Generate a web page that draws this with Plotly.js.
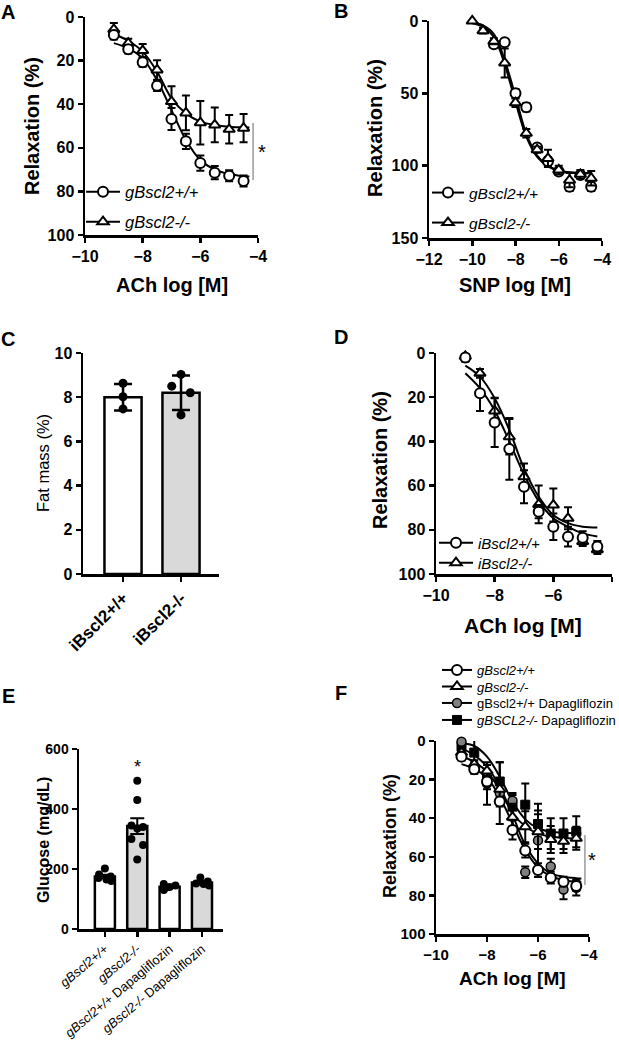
<!DOCTYPE html>
<html>
<head>
<meta charset="utf-8">
<script src="https://cdn.plot.ly/plotly-3.0.1.min.js"></script>
<style>html,body{margin:0;padding:0;background:#fff;}#chart{width:619px;height:1050px;}</style>
</head>
<body>
<div id="chart"></div>
<script>
// ---------------- DATA ----------------
// Panel A (ACh, gBscl2)
const xA = [-9, -8.5, -8, -7.5, -7, -6.5, -6, -5.5, -5, -4.5];
const aWT = [8.3, 14.8, 20.8, 31.5, 46.8, 57, 67, 71.4, 72.8, 75.2];
const aWTerr = [2, 2, 2, 2.5, 5, 3.5, 3.5, 3, 2.5, 2.5];
const aKO = [5.7, 12, 15.4, 24.3, 38.8, 44, 48.5, 49.5, 51.5, 51];
const aKOerr = [3, 2, 3, 4.5, 7, 8, 10, 8, 6.5, 6.5];
const fitXA = [-9, -8.5, -8, -7.5, -7, -6.5, -6, -5.5, -5, -4.5, -4.3];
const aWTfit = [12, 14.4, 19, 29, 42.7, 56.4, 65.6, 70, 72, 73, 73.2];
const aKOfit = [7.8, 10.9, 15.9, 25.1, 37.3, 44.2, 48, 49.5, 50.3, 50.6, 50.7];

// Panel B (SNP, gBscl2)
const xBwt = [-9, -8.5, -8, -7.5, -7, -6.5, -6, -5.5, -5, -4.5];
const bWT = [16, 14.7, 50, 59.6, 87.5, 97, 104, 114.5, 106.4, 114.5];
const bWTerr = [2, 2, 3, 3, 2, 3, 2, 3, 2, 3];
const xBko = [-10, -9.5, -9, -8.5, -8, -7.5, -7, -6.5, -6, -5.5, -5, -4.5];
const bKO = [0, 6.7, 14, 29, 56.5, 77.6, 89, 95, 103, 110, 106, 108.7];
const bKOerr = [1, 2, 2, 10, 3, 3, 2, 6, 3, 5, 3, 5];
const fitXB = [-10, -9.5, -9, -8.5, -8, -7.5, -7, -6.5, -6, -5.5, -5, -4.5];
const bWTfit = [1, 3, 9, 27, 52, 78, 93, 100, 103.5, 104.8, 105.2, 105.3];
const bKOfit = [1.5, 4, 11, 30, 56, 80, 94, 100.5, 103.5, 104.5, 105, 105];

// Panel C (fat mass, iBscl2)
const cLabels = ['iBscl2+/+', 'iBscl2-/-'];
const cMean = [8.0, 8.2];
const cSD = [0.6, 0.78];
const cPoints = [[8.63, 8.02, 7.47], [9.03, 8.5, 8.2, 7.2]];

// Panel D (ACh, iBscl2)
const xD = [-9, -8.5, -8, -7.5, -7, -6.5, -6, -5.5, -5, -4.5];
const dWT = [2, 18.2, 31.5, 43.4, 60.5, 71.8, 78.6, 83.1, 83.6, 87.6];
const dWTerr = [2, 8, 11, 14, 7.5, 3, 6, 4.5, 3, 2.5];
const dKO = [1.5, 9.2, 26.2, 37.9, 56, 68.5, 68.8, 74.8, 85.3, 89];
const dKOerr = [2, 2, 6, 8, 6, 8.5, 7.5, 5, 2, 2];
const fitXD = [-9, -8.5, -8, -7.5, -7, -6.5, -6, -5.5, -5, -4.5];
const dWTfit = [9.2, 16, 26, 40, 55, 67, 74.8, 78.6, 81.6, 83];
const dKOfit = [5.7, 10.7, 20.5, 34.8, 52.2, 65, 73.3, 77, 78.6, 79];

// Panel E (glucose)
const eLabels = ['<i>gBscl2+/+</i>', '<i>gBscl2-/-</i>', '<i>gBscl2+/+</i> Dapagliflozin', '<i>gBscl2-/-</i> Dapagliflozin'];
const eMean = [175, 343, 141, 155];
const eSEM = [6, 26, 4, 4];
const ePoints = [[202, 182, 175, 170, 165, 160], [494, 430, 345, 340, 335, 300, 280, 232], [150, 145, 140, 138, 130], [172, 158, 152, 150, 145]];

// Panel F (ACh, with dapagliflozin)
const xF = [-9, -8.5, -8, -7.5, -7, -6.5, -6, -5.5, -5, -4.5];
const fWT = [8.1, 14.7, 21, 31.4, 46.1, 56.8, 66.8, 70.8, 72.9, 75.1];
const fWTerr = [2, 2, 2, 2.5, 5, 3.5, 3.5, 3, 2.5, 2.5];
const fKO = [6, 12, 15.5, 25, 39.5, 44.4, 47, 51, 52, 50.4];
const fKOerr = [3, 2, 3, 5, 7, 8, 9, 7, 6, 6];
const fDWT = [0.4, 14, 22, 27, 31, 68, 51.5, 65, 77, 76];
const fDWTerr = [2, 3, 11, 16, 4, 3, 19, 4, 5, 4];
const fDKO = [3, 6, 20, 21, 34, 33, 43, 48, 48, 47];
const fDKOerr = [3, 10, 5, 10, 6, 11, 7, 8, 8, 8];
const fitXF = [-9, -8.5, -8, -7.5, -7, -6.5, -6, -5.5, -5, -4.5, -4.3];
const fWTfit = [12, 14.4, 19, 29, 42.7, 56.4, 65.6, 70, 72, 73, 73.2];
const fKOfit = [7.8, 10.9, 15.9, 25.1, 37.3, 44.2, 48, 49.5, 50.3, 50.6, 50.7];
const fDWTfit = [3.8, 7.3, 13.3, 23.7, 38.3, 53.9, 63.4, 68.6, 70.3, 71.1, 71.3];
const fDKOfit = [1.2, 2.6, 8.1, 18.5, 31.4, 40.6, 45.2, 47, 47.5, 47.8, 47.9];

// ---------------- STYLE / LAYOUT HELPERS ----------------
const W = 619, H = 1050;
const FONT = 'Arial, "Liberation Sans", sans-serif';
const dx = (a, b) => [a / W, b / W];
const dy = (top, bottom) => [1 - bottom / H, 1 - top / H];
const px = v => v / W, py = v => 1 - v / H;

const mWT = {symbol: 'circle', size: 10, color: 'white', line: {color: 'black', width: 2}};
const mKO = {symbol: 'triangle-up', size: 10, color: 'white', line: {color: 'black', width: 2}};
const mDWT = {symbol: 'circle', size: 9, color: '#808080', line: {color: 'black', width: 1.5}};
const mDKO = {symbol: 'square', size: 9, color: 'black', line: {color: 'black', width: 1}};
const lineStyle = {color: 'black', width: 2, shape: 'spline'};

function errs(arr) { return {type: 'data', array: arr, visible: true, color: 'black', thickness: 2, width: 4}; }
function pts(x, y, e, marker, xa, ya) {
  return {type: 'scatter', mode: 'markers', x: x, y: y, error_y: errs(e), marker: marker,
    xaxis: xa, yaxis: ya, showlegend: false, cliponaxis: false, hoverinfo: 'skip'};
}
function fit(x, y, xa, ya) {
  return {type: 'scatter', mode: 'lines', x: x, y: y, line: lineStyle, xaxis: xa, yaxis: ya, showlegend: false, hoverinfo: 'skip'};
}
function leg(name, marker, xa, ya, legend) {
  return {type: 'scatter', mode: 'lines+markers', x: [null], y: [null], name: name, marker: marker,
    line: {color: 'black', width: 2}, xaxis: xa, yaxis: ya, legend: legend, showlegend: true};
}

const traces = [];
// A
traces.push(fit(fitXA, aWTfit, 'x', 'y'), fit(fitXA, aKOfit, 'x', 'y'));
traces.push(pts(xA, aKO, aKOerr, mKO, 'x', 'y'), pts(xA, aWT, aWTerr, mWT, 'x', 'y'));
traces.push(leg('gBscl2+/+', mWT, 'x', 'y', 'legend'), leg('gBscl2-/-', mKO, 'x', 'y', 'legend2'));
// B
traces.push(fit(fitXB, bWTfit, 'x2', 'y2'), fit(fitXB, bKOfit, 'x2', 'y2'));
traces.push(pts(xBwt, bWT, bWTerr, mWT, 'x2', 'y2'), pts(xBko, bKO, bKOerr, mKO, 'x2', 'y2'));
traces.push(leg('gBscl2+/+', mWT, 'x2', 'y2', 'legend3'), leg('gBscl2-/-', mKO, 'x2', 'y2', 'legend4'));
// C
const cIdx = cLabels.map((_, i) => i);
traces.push({type: 'bar', x: cIdx, y: cMean, width: 0.64, marker: {color: ['white', '#d9d9d9'], line: {color: 'black', width: 2.5}},
  error_y: {type: 'data', array: cSD, color: 'black', thickness: 2.5, width: 9}, xaxis: 'x3', yaxis: 'y3', showlegend: false, hoverinfo: 'skip'});
const jitC = [[0, 0, 0], [0, -0.16, 0.16, 0]];
cPoints.forEach((arr, i) => {
  traces.push({type: 'scatter', mode: 'markers', x: arr.map((_, j) => i + jitC[i][j]), y: arr,
    marker: {symbol: 'circle', size: 9, color: 'black'}, xaxis: 'x3', yaxis: 'y3', showlegend: false, hoverinfo: 'skip', cliponaxis: false});
});
// D
traces.push(fit(fitXD, dWTfit, 'x4', 'y4'), fit(fitXD, dKOfit, 'x4', 'y4'));
traces.push(pts(xD, dKO, dKOerr, mKO, 'x4', 'y4'), pts(xD, dWT, dWTerr, mWT, 'x4', 'y4'));
traces.push(leg('iBscl2+/+', mWT, 'x4', 'y4', 'legend5'), leg('iBscl2-/-', mKO, 'x4', 'y4', 'legend6'));
// E
const eIdx = eLabels.map((_, i) => i);
traces.push({type: 'bar', x: eIdx, y: eMean, width: 0.62, marker: {color: ['white', '#d9d9d9', 'white', '#d9d9d9'], line: {color: 'black', width: 2.5}},
  error_y: {type: 'data', array: eSEM, color: 'black', thickness: 2, width: 7}, xaxis: 'x5', yaxis: 'y5', showlegend: false, hoverinfo: 'skip'});
const jitE = [[0, -0.18, 0.18, -0.2, 0.05, 0.2], [0, 0, -0.18, 0.18, 0.0, -0.18, 0.18, 0], [-0.18, 0.18, 0, -0.1, -0.18], [-0.05, 0.18, -0.18, 0.05, 0.22]];
ePoints.forEach((arr, i) => {
  traces.push({type: 'scatter', mode: 'markers', x: arr.map((_, j) => i + jitE[i][j]), y: arr,
    marker: {symbol: 'circle', size: 8, color: 'black'}, xaxis: 'x5', yaxis: 'y5', showlegend: false, hoverinfo: 'skip', cliponaxis: false});
});
// F
traces.push(fit(fitXF, fDKOfit, 'x6', 'y6'), fit(fitXF, fDWTfit, 'x6', 'y6'), fit(fitXF, fKOfit, 'x6', 'y6'), fit(fitXF, fWTfit, 'x6', 'y6'));
traces.push(pts(xF, fDKO, fDKOerr, mDKO, 'x6', 'y6'), pts(xF, fDWT, fDWTerr, mDWT, 'x6', 'y6'),
  pts(xF, fKO, fKOerr, mKO, 'x6', 'y6'), pts(xF, fWT, fWTerr, mWT, 'x6', 'y6'));
traces.push(leg('<i>gBscl2+/+</i>', mWT, 'x6', 'y6', 'legend7'), leg('<i>gBscl2-/-</i>', mKO, 'x6', 'y6', 'legend8'),
  leg('gBscl2+/+ Dapagliflozin', mDWT, 'x6', 'y6', 'legend9'), leg('<i>gBSCL2-/-</i> Dapagliflozin', mDKO, 'x6', 'y6', 'legend10'));

function axis(domain, range, extra) {
  return Object.assign({domain: domain, range: range, showline: true, linecolor: 'black', linewidth: 2.5,
    ticks: 'outside', ticklen: 5, tickwidth: 2.5, tickcolor: 'black', showgrid: false, zeroline: false,
    tickfont: {family: FONT, size: 16, color: 'black', weight: 'bold'}, fixedrange: true}, extra || {});
}
const tf = s => ({family: FONT, size: s, color: 'black', weight: 'bold'});

function ann(text, x, y, size, extra) {
  return Object.assign({text: text, x: px(x), y: py(y), xref: 'paper', yref: 'paper', showarrow: false,
    xanchor: 'center', yanchor: 'middle', font: {family: FONT, size: size, color: 'black', weight: 'bold'}}, extra || {});
}

// one legend box per entry so every row sits where the reference has it
function legBox(markerX, textX, rowY, size, italic, maxIw) {
  const f = {family: FONT, size: size, color: 'black'};
  if (italic) f.style = 'italic';
  let iw = Math.max(30, 2 * (textX - markerX - 7));
  if (maxIw) iw = Math.min(iw, maxIw);
  return {bgcolor: 'rgba(0,0,0,0)', xanchor: 'left', yanchor: 'middle', x: px(markerX - iw / 2 - 2), y: py(rowY),
    itemwidth: iw, font: f, itemclick: false, itemdoubleclick: false};
}

const layout = {
  width: W, height: H, margin: {l: 0, r: 0, t: 0, b: 0, autoexpand: false}, paper_bgcolor: 'white', plot_bgcolor: 'rgba(0,0,0,0)',
  showlegend: true,
  xaxis: axis(dx(85, 258), [-10, -4], {dtick: 2, anchor: 'y'}),
  yaxis: axis(dy(17, 235), [100, 0], {dtick: 20, anchor: 'x'}),
  xaxis2: axis(dx(429, 602), [-12, -4], {dtick: 2, anchor: 'y2'}),
  yaxis2: axis(dy(21, 238), [150, 0], {dtick: 50, anchor: 'x2'}),
  xaxis3: axis(dx(83, 219), [-0.69, 1.655], {anchor: 'y3', tickvals: cIdx, ticktext: cLabels, tickangle: -45, tickfont: tf(17)}),
  yaxis3: axis(dy(353, 574), [0, 10], {dtick: 2, anchor: 'x3'}),
  xaxis4: axis(dx(436, 612), [-10, -4], {dtick: 2, anchor: 'y4'}),
  yaxis4: axis(dy(353, 574), [100, 0], {dtick: 20, anchor: 'x4'}),
  xaxis5: axis(dx(79, 223), [-0.8, 3.65], {anchor: 'y5', tickvals: eIdx, ticktext: eLabels, tickangle: -40,
    tickfont: {family: FONT, size: 13, color: 'black'}}),
  yaxis5: axis(dy(749, 929), [0, 600], {dtick: 200, anchor: 'x5', tickfont: tf(14)}),
  xaxis6: axis(dx(436, 589), [-10, -4], {dtick: 2, anchor: 'y6', tickfont: tf(15)}),
  yaxis6: axis(dy(741, 934), [100, 0], {dtick: 20, anchor: 'x6', tickfont: tf(15)}),
  legend: legBox(100, 128, 192, 16.5, true, 34),
  legend2: legBox(100, 128, 222, 16.5, true, 34),
  legend3: legBox(445, 468, 193, 15.5, true),
  legend4: legBox(445, 468, 223, 15.5, true),
  legend5: legBox(453, 477, 543, 15, true),
  legend6: legBox(453, 477, 563, 15, true),
  legend7: legBox(454, 473, 670, 13, false),
  legend8: legBox(454, 473, 686.5, 13, false),
  legend9: legBox(454, 473, 703, 13, false),
  legend10: legBox(454, 473, 720, 13, false),
  shapes: [
    {type: 'line', xref: 'x', yref: 'y', x0: -4.17, x1: -4.17, y0: 48.6, y1: 74.8, line: {color: '#9a9a9a', width: 1.5}},
    {type: 'line', xref: 'x6', yref: 'y6', x0: -4.16, x1: -4.16, y0: 48.7, y1: 74.6, line: {color: '#9a9a9a', width: 1.5}}
  ],
  annotations: [
    ann('A', 8, 12, 20), ann('B', 341, 11, 20), ann('C', 8, 339, 20), ann('D', 341, 337, 20), ann('E', 8, 696, 20), ann('F', 341, 693, 20),
    ann('Relaxation (%)', 32, 126, 20, {textangle: -90}),
    ann('ACh log [M]', 172, 285, 20),
    ann('Relaxation (%)', 375, 128, 20, {textangle: -90}),
    ann('SNP log [M]', 515, 285, 20),
    ann('Fat mass (%)', 43, 463, 16, {textangle: -90, font: {family: FONT, size: 16.5, color: 'black'}}),
    ann('Relaxation (%)', 380, 460, 20, {textangle: -90}),
    ann('ACh log [M]', 523, 625, 21),
    ann('Glucose (mg/dL)', 43, 840, 16, {textangle: -90}),
    ann('Relaxation (%)', 390, 836, 18, {textangle: -90}),
    ann('ACh log [M]', 512, 978, 19),
    ann('*', 262, 152, 20, {font: {family: FONT, size: 20, color: 'black'}}),
    ann('*', 592, 860, 20, {font: {family: FONT, size: 20, color: 'black'}}),
    ann('*', 137, 767, 18, {font: {family: FONT, size: 18, color: 'black'}})
  ]
};

Plotly.newPlot('chart', traces, layout, {displayModeBar: false, staticPlot: true});
</script>
</body>
</html>
